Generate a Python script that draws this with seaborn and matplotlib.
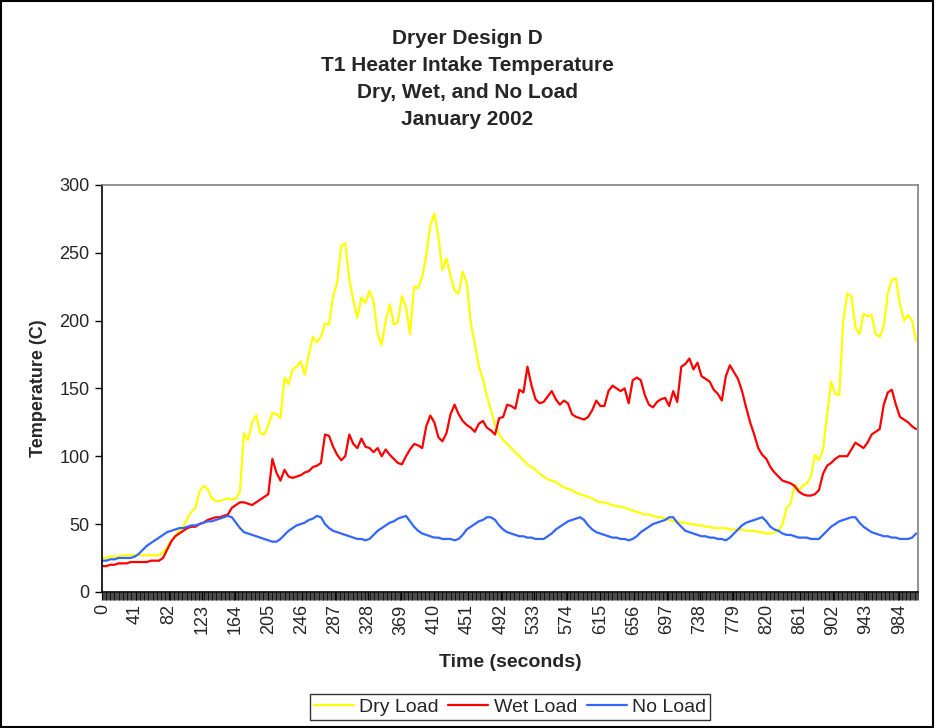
import numpy as np
import pandas as pd
import seaborn as sns
import matplotlib.pyplot as plt
from matplotlib.ticker import MultipleLocator, FixedLocator
from matplotlib.patches import Rectangle

sns.set_style("white")
plt.rcParams['font.family'] = ['Liberation Sans', 'DejaVu Sans']

# one reading every 5 seconds, 0..1005
time_s = np.arange(0, 1010, 5)

dry_load = [25, 25, 26, 26, 26, 27, 27, 27, 27, 27, 27, 27, 27, 27, 27, 29, 33, 38, 41, 45,
            48, 54, 59, 62, 74, 78, 76, 69, 67, 67, 68, 69, 68, 69, 74, 117, 112, 125, 130, 117,
            116, 123, 132, 131, 128, 158, 153, 164, 166, 170, 160, 175, 188, 184, 188, 198, 197, 218, 228, 255,
            257, 230, 215, 202, 217, 213, 222, 214, 190, 182, 200, 212, 197, 199, 218, 210, 190, 225, 224, 232,
            248, 270, 279, 262, 237, 246, 233, 222, 220, 236, 228, 198, 183, 166, 157, 144, 134, 123, 116, 112,
            109, 106, 103, 100, 97, 94, 92, 90, 87, 85, 83, 82, 81, 79, 77, 76, 75, 73, 72, 71,
            70, 69, 67, 66, 66, 65, 64, 63, 63, 62, 61, 60, 59, 58, 57, 57, 56, 55, 55, 54,
            53, 52, 52, 51, 51, 50, 50, 49, 49, 48, 48, 47, 47, 47, 47, 46, 46, 46, 46, 45,
            45, 45, 44, 44, 43, 43, 44, 45, 50, 62, 65, 79, 75, 78, 80, 85, 101, 97, 105, 130,
            155, 146, 145, 200, 220, 218, 195, 190, 205, 203, 204, 190, 188, 196, 220, 230, 231, 212, 200, 204,
            200, 185]

wet_load = [19, 19, 20, 20, 21, 21, 21, 22, 22, 22, 22, 22, 23, 23, 23, 25, 31, 37, 41, 43,
            45, 47, 48, 48, 50, 51, 53, 54, 55, 55, 56, 57, 62, 64, 66, 66, 65, 64, 66, 68,
            70, 72, 98, 88, 82, 90, 85, 84, 85, 86, 88, 89, 92, 93, 95, 116, 115, 107, 101, 97,
            100, 116, 109, 106, 113, 107, 106, 103, 106, 100, 105, 101, 98, 95, 94, 100, 105, 109, 108, 106,
            122, 130, 125, 114, 111, 117, 131, 138, 131, 126, 123, 121, 118, 124, 126, 121, 119, 116, 128, 129,
            138, 137, 135, 149, 147, 166, 152, 142, 139, 140, 144, 148, 142, 138, 141, 139, 131, 129, 128, 127,
            129, 134, 141, 137, 137, 148, 152, 150, 148, 150, 139, 156, 158, 156, 145, 138, 136, 140, 142, 143,
            137, 148, 140, 166, 168, 172, 164, 169, 159, 157, 155, 149, 146, 141, 159, 167, 162, 157, 148, 136,
            125, 116, 106, 101, 98, 92, 88, 85, 82, 81, 80, 78, 74, 72, 71, 71, 72, 75, 87, 93,
            95, 98, 100, 100, 100, 105, 110, 108, 106, 110, 116, 118, 120, 138, 147, 149, 138, 129, 127, 125,
            122, 120]

no_load = [23, 23, 24, 24, 25, 25, 25, 25, 26, 28, 31, 34, 36, 38, 40, 42, 44, 45, 46, 47,
           47, 48, 49, 49, 50, 51, 52, 52, 53, 54, 55, 56, 55, 51, 47, 44, 43, 42, 41, 40,
           39, 38, 37, 37, 39, 42, 45, 47, 49, 50, 51, 53, 54, 56, 55, 50, 47, 45, 44, 43,
           42, 41, 40, 39, 39, 38, 39, 42, 45, 47, 49, 51, 52, 54, 55, 56, 52, 48, 45, 43,
           42, 41, 40, 40, 39, 39, 39, 38, 39, 42, 46, 48, 50, 52, 53, 55, 55, 53, 49, 46,
           44, 43, 42, 41, 41, 40, 40, 39, 39, 39, 41, 43, 46, 48, 50, 52, 53, 54, 55, 53,
           49, 46, 44, 43, 42, 41, 40, 40, 39, 39, 38, 39, 41, 44, 46, 48, 50, 51, 52, 53,
           55, 55, 51, 48, 45, 44, 43, 42, 41, 41, 40, 40, 39, 39, 38, 40, 43, 46, 49, 51,
           52, 53, 54, 55, 52, 48, 46, 45, 43, 42, 42, 41, 40, 40, 40, 39, 39, 39, 42, 45,
           48, 50, 52, 53, 54, 55, 55, 51, 48, 46, 44, 43, 42, 41, 41, 40, 40, 39, 39, 39,
           40, 43]

series_names = ["Dry Load", "Wet Load", "No Load"]
series_colors = ["#FFFF00", "#FF0000", "#3366FF"]
tick_labels = [0, 41, 82, 123, 164, 205, 246, 287, 328, 369, 410, 451, 492, 533,
               574, 615, 656, 697, 738, 779, 820, 861, 902, 943, 984]
title_lines = ["Dryer Design D", "T1 Heater Intake Temperature",
               "Dry, Wet, and No Load", "January 2002"]

df = pd.DataFrame({
    "time": np.concatenate([time_s] * 3),
    "temp": dry_load + wet_load + no_load,
    "load": np.repeat(series_names, len(time_s)),
})

fig = plt.figure(figsize=(9.35, 7.28), dpi=100)
ax = fig.add_axes([0.109, 0.187, 0.873, 0.559])
sns.lineplot(data=df, x="time", y="temp", hue="load", hue_order=series_names,
             palette=series_colors, linewidth=1.6, ax=ax, legend=False)

ax.set_xlim(-0.5, 1007.5)
ax.set_ylim(0, 300)
ax.yaxis.set_major_locator(MultipleLocator(50))
ax.xaxis.set_major_locator(FixedLocator(tick_labels))
ax.xaxis.set_minor_locator(MultipleLocator(1))
ax.set_xticklabels([str(t) for t in tick_labels], rotation=90, fontsize=13)
ax.tick_params(axis='y', labelsize=13, length=5, width=1, direction='out', left=True, color='black', pad=4)
ax.tick_params(axis='x', which='major', length=6, width=0.8, direction='out', bottom=True, color='black', pad=3)
ax.tick_params(axis='x', which='minor', length=6, width=0.5, direction='out', bottom=True, color='black')

for side in ['left', 'bottom']:
    ax.spines[side].set_color('black')
    ax.spines[side].set_linewidth(1.2)
for side in ['top', 'right']:
    ax.spines[side].set_color('#808080')
    ax.spines[side].set_linewidth(1.2)

ax.set_xlabel("Time (seconds)", fontsize=14, fontweight='bold', labelpad=14)
ax.set_ylabel("Temperature (C)", fontsize=13, fontweight='bold', labelpad=9)

# title: four centred lines, baselines
for i, line in enumerate(title_lines):
    fig.text(0.5, 1 - (44 + 27 * i) / 728, line, ha='center', va='baseline',
             fontsize=15, fontweight='bold')

handles = ax.get_lines()[:3]
leg = fig.legend(handles, series_names, loc='center', bbox_to_anchor=(0.5455, 0.0288),
                 ncol=3, fontsize=14, frameon=True, fancybox=False, handlelength=2.05,
                 handletextpad=0.28, columnspacing=0.5, borderpad=0.2)
leg.get_frame().set_edgecolor('black')
leg.get_frame().set_linewidth(1.0)

fig.patches.append(Rectangle((0.001, 0.001), 0.997, 0.997, transform=fig.transFigure,
                             fill=False, edgecolor='black', linewidth=1.5))

fig.savefig("out.png", dpi=100)
